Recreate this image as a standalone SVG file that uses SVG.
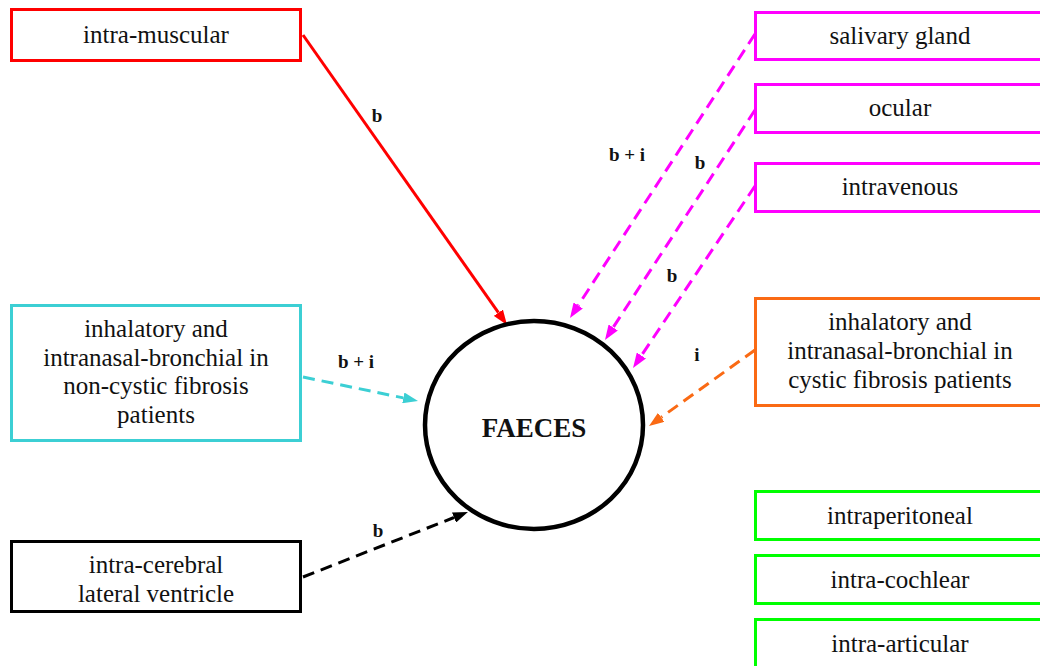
<svg xmlns="http://www.w3.org/2000/svg" width="1040" height="666" viewBox="0 0 1040 666">
  <style>
    .box { fill: #ffffff; stroke-width: 3; }
    .lbl { font-family: "Liberation Serif", "Times New Roman", serif; font-size: 25px; fill: #111111; text-anchor: middle; }
    .elbl { font-family: "Liberation Serif", "Times New Roman", serif; font-size: 19px; font-weight: bold; fill: #111111; text-anchor: middle; }
    .edge { fill: none; stroke-width: 3; }
    .dash { stroke-dasharray: 12 7; }
  </style>
  <defs>
    <marker id="ah-red" markerUnits="userSpaceOnUse" markerWidth="15" markerHeight="11" refX="0" refY="5.5" orient="auto"><path d="M0,0 L15,5.5 L0,11 z" fill="#ff0000"/></marker>
    <marker id="ah-mag" markerUnits="userSpaceOnUse" markerWidth="15" markerHeight="11" refX="0" refY="5.5" orient="auto"><path d="M0,0 L15,5.5 L0,11 z" fill="#ff00ff"/></marker>
    <marker id="ah-cyan" markerUnits="userSpaceOnUse" markerWidth="15" markerHeight="11" refX="0" refY="5.5" orient="auto"><path d="M0,0 L15,5.5 L0,11 z" fill="#3ccfd4"/></marker>
    <marker id="ah-orange" markerUnits="userSpaceOnUse" markerWidth="15" markerHeight="11" refX="0" refY="5.5" orient="auto"><path d="M0,0 L15,5.5 L0,11 z" fill="#fa6a14"/></marker>
    <marker id="ah-black" markerUnits="userSpaceOnUse" markerWidth="15" markerHeight="11" refX="0" refY="5.5" orient="auto"><path d="M0,0 L15,5.5 L0,11 z" fill="#000000"/></marker>
  </defs>
  <rect width="1040" height="666" fill="#ffffff"/>

  <!-- connectors -->
  <g id="edges">
    <line class="edge" stroke="#ff0000" x1="303" y1="35" x2="498.4" y2="312.7" marker-end="url(#ah-red)"/>
    <line class="edge dash" stroke="#ff00ff" x1="755" y1="34" x2="578.2" y2="305.4" marker-end="url(#ah-mag)"/>
    <line class="edge dash" stroke="#ff00ff" x1="755" y1="110" x2="613.2" y2="327.4" marker-end="url(#ah-mag)"/>
    <line class="edge dash" stroke="#ff00ff" x1="755" y1="186" x2="641.4" y2="355.5" marker-end="url(#ah-mag)"/>
    <line class="edge dash" stroke="#3ccfd4" x1="303" y1="377" x2="403.3" y2="397.9" marker-end="url(#ah-cyan)"/>
    <line class="edge dash" stroke="#fa6a14" x1="755" y1="350" x2="661.2" y2="417.3" marker-end="url(#ah-orange)"/>
    <line class="edge dash" stroke="#000000" x1="303" y1="577" x2="454" y2="517.5" marker-end="url(#ah-black)"/>
    <text class="elbl" x="377" y="122">b</text>
    <text class="elbl" x="627" y="161">b + i</text>
    <text class="elbl" x="700" y="169">b</text>
    <text class="elbl" x="672" y="282">b</text>
    <text class="elbl" x="356" y="368">b + i</text>
    <text class="elbl" x="697" y="361">i</text>
    <text class="elbl" x="378" y="537">b</text>
  </g>

  <!-- central node -->
  <g id="faeces">
    <ellipse cx="534" cy="425" rx="109" ry="104" fill="#ffffff" stroke="#000000" stroke-width="4.5"/>
    <text x="534" y="437" font-family="Liberation Serif, Times New Roman, serif" font-size="27" font-weight="bold" text-anchor="middle" fill="#111111">FAECES</text>
  </g>

  <!-- left nodes -->
  <g id="intra-muscular">
    <rect class="box" stroke="#ff0000" x="11.5" y="9.5" width="289" height="51"/>
    <text class="lbl" x="156" y="43">intra-muscular</text>
  </g>
  <g id="inhal-noncf">
    <rect class="box" stroke="#3ccfd4" x="11.5" y="305.5" width="289" height="135"/>
    <text class="lbl" x="156" y="337">inhalatory and</text>
    <text class="lbl" x="156" y="366">intranasal-bronchial in</text>
    <text class="lbl" x="156" y="394">non-cystic fibrosis</text>
    <text class="lbl" x="156" y="423">patients</text>
  </g>
  <g id="intra-cerebral">
    <rect class="box" stroke="#000000" x="11.5" y="541.5" width="289" height="70"/>
    <text class="lbl" x="156" y="573">intra-cerebral</text>
    <text class="lbl" x="156" y="602">lateral ventricle</text>
  </g>

  <!-- right nodes -->
  <g id="salivary-gland">
    <rect class="box" stroke="#ff00ff" x="755.5" y="12.5" width="300" height="47"/>
    <text class="lbl" x="900" y="44">salivary gland</text>
  </g>
  <g id="ocular">
    <rect class="box" stroke="#ff00ff" x="755.5" y="84.5" width="300" height="48"/>
    <text class="lbl" x="900" y="116">ocular</text>
  </g>
  <g id="intravenous">
    <rect class="box" stroke="#ff00ff" x="755.5" y="163.5" width="300" height="48"/>
    <text class="lbl" x="900" y="195">intravenous</text>
  </g>
  <g id="inhal-cf">
    <rect class="box" stroke="#fa6a14" x="755.5" y="298.5" width="300" height="107"/>
    <text class="lbl" x="900" y="330">inhalatory and</text>
    <text class="lbl" x="900" y="359">intranasal-bronchial in</text>
    <text class="lbl" x="900" y="388">cystic fibrosis patients</text>
  </g>
  <g id="intraperitoneal">
    <rect class="box" stroke="#00ff00" x="755.5" y="491.5" width="300" height="48"/>
    <text class="lbl" x="900" y="524">intraperitoneal</text>
  </g>
  <g id="intra-cochlear">
    <rect class="box" stroke="#00ff00" x="755.5" y="555.5" width="300" height="48"/>
    <text class="lbl" x="900" y="588">intra-cochlear</text>
  </g>
  <g id="intra-articular">
    <rect class="box" stroke="#00ff00" x="755.5" y="619.5" width="300" height="60"/>
    <text class="lbl" x="900" y="652">intra-articular</text>
  </g>
</svg>
